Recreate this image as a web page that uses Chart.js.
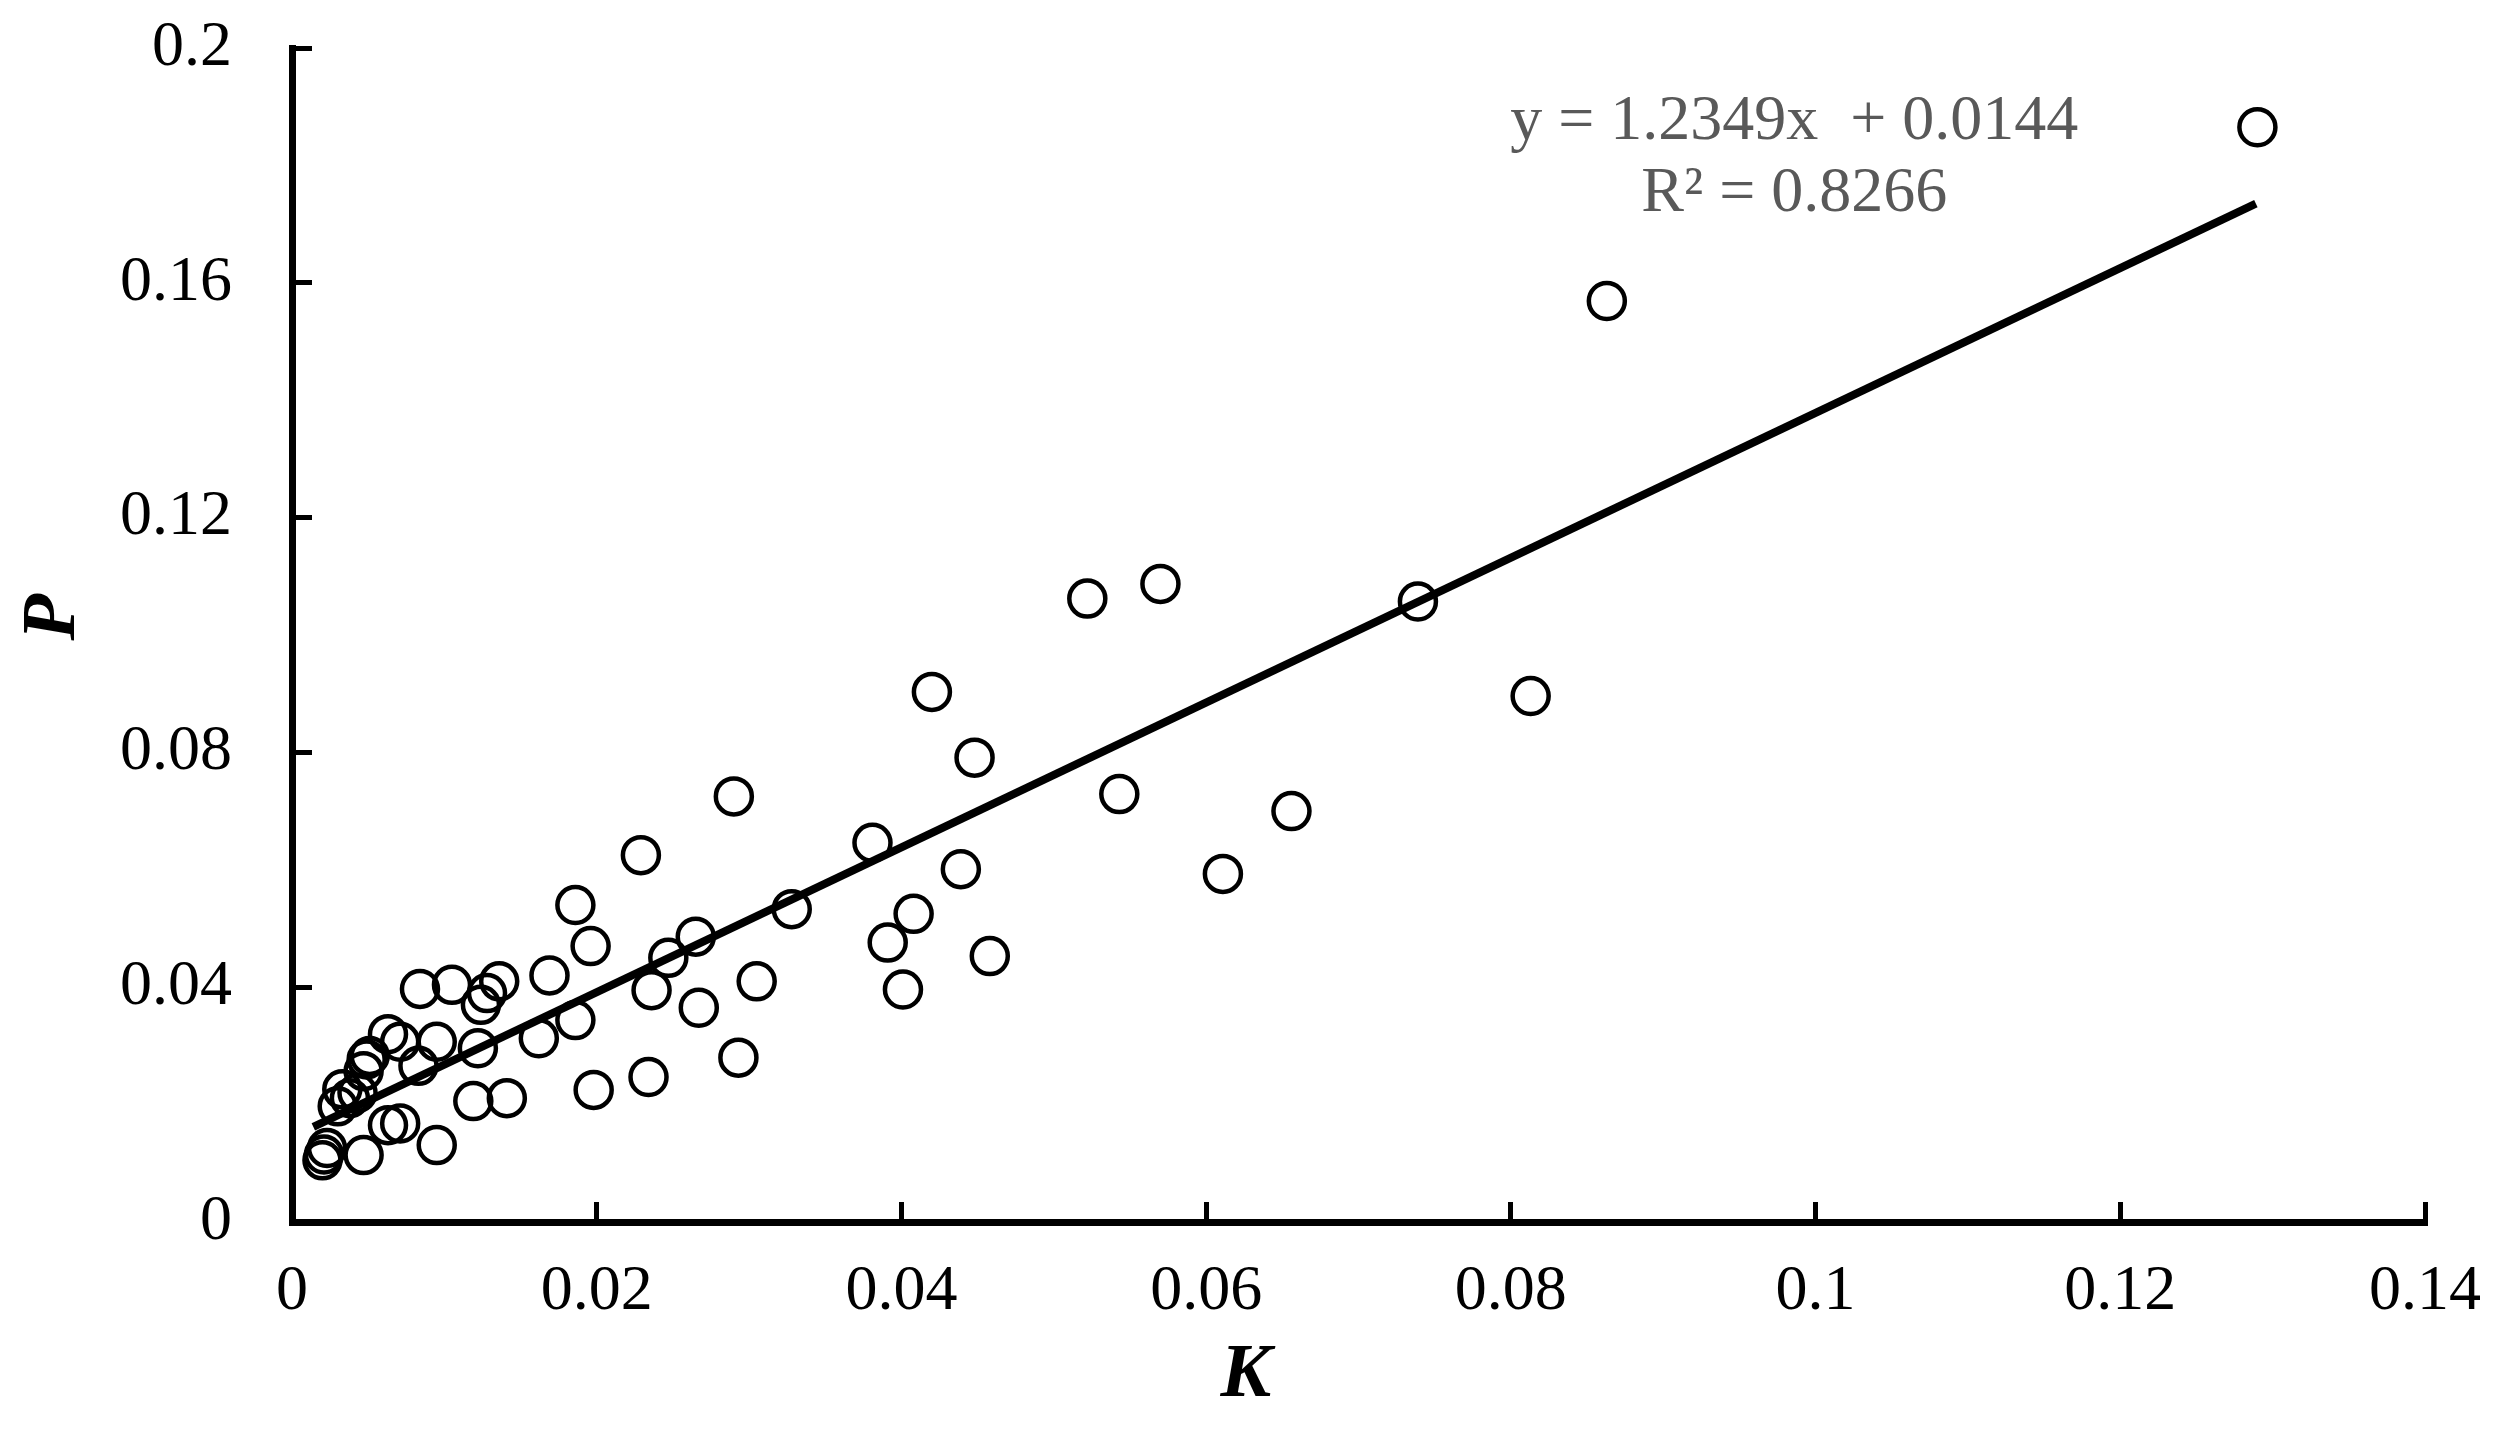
<!DOCTYPE html>
<html>
<head>
<meta charset="utf-8">
<script src="https://cdn.jsdelivr.net/npm/chart.js@4/dist/chart.umd.min.js"></script>
<style>
  html, body { margin: 0; padding: 0; background: #fff; }
  #wrap { width: 2503px; height: 1429px; position: relative; }
</style>
</head>
<body>
<div id="wrap"><canvas id="kpChart"></canvas></div>
<script>
// K / P values
const kValues = [
    0.1290, 0.0863, 0.0813, 0.0739, 0.0656, 0.0611, 0.0570, 0.0522, 0.0543, 0.0420,
    0.0448, 0.0381, 0.0439, 0.0408, 0.0391, 0.0458, 0.0401, 0.0328, 0.0290, 0.0305,
    0.0293, 0.0229, 0.0186, 0.0196, 0.0169, 0.0247, 0.0265, 0.0236, 0.0267, 0.0186,
    0.0162, 0.0198, 0.0234, 0.0084, 0.0105, 0.0136, 0.0128, 0.0124, 0.0063, 0.0071,
    0.0095, 0.0122, 0.0083, 0.0049, 0.0047, 0.0119, 0.0141, 0.0063, 0.0071, 0.0095,
    0.0047, 0.0020, 0.0021, 0.0023, 0.0030, 0.0038, 0.0043, 0.0033, 0.0051
];
const pValues = [
    0.1865, 0.1569, 0.0896, 0.1057, 0.0700, 0.0593, 0.1087, 0.1062, 0.0729, 0.0903,
    0.0791, 0.0646, 0.0601, 0.0525, 0.0476, 0.0453, 0.0396, 0.0533, 0.0725, 0.0410,
    0.0280, 0.0625, 0.0540, 0.0470, 0.0420, 0.0450, 0.0486, 0.0395, 0.0365, 0.0344,
    0.0313, 0.0225, 0.0247, 0.0397, 0.0404, 0.0410, 0.0390, 0.0370, 0.0320, 0.0307,
    0.0307, 0.0296, 0.0266, 0.0277, 0.0257, 0.0206, 0.0211, 0.0165, 0.0168, 0.0131,
    0.0114, 0.0105, 0.0115, 0.0126, 0.0197, 0.0211, 0.0220, 0.0226, 0.0283
];

// trend line end points as drawn
const trendK = [0.0014, 0.1289];
const trendP = [0.0162, 0.1735];

const xTickLabels = ["0", "0.02", "0.04", "0.06", "0.08", "0.1", "0.12", "0.14"];
const yTickLabels = ["0", "0.04", "0.08", "0.12", "0.16", "0.2"];
const equationLines = ["y = 1.2349x  + 0.0144", "R\u00B2 = 0.8266"];

const serif = "'Liberation Serif', 'Times New Roman', serif";

const scatterPoints = kValues.map((k, i) => ({ x: k, y: pValues[i] }));
const trendPoints = trendK.map((k, i) => ({ x: k, y: trendP[i] }));

// axis titles + equation label
const annotations = {
    id: "annotations",
    afterDraw(chart) {
        const c = chart.ctx;
        const xs = chart.scales.x;
        const ys = chart.scales.y;
        const area = chart.chartArea;
        c.save();
        c.fillStyle = "#595959";
        c.font = "64px " + serif;
        c.textAlign = "center";
        c.textBaseline = "middle";
        c.fillText(equationLines[0], xs.getPixelForValue(0.0986), 122);
        c.fillText(equationLines[1], xs.getPixelForValue(0.0986), 194);

        c.fillStyle = "#000";
        c.font = "italic bold 76px " + serif;
        c.fillText("K", xs.getPixelForValue(0.0626), area.bottom + 154);
        c.translate(area.left - 238, ys.getPixelForValue(0.103));
        c.rotate(-Math.PI / 2);
        c.fillText("P", 0, 0);
        c.restore();
    }
};

const ctx = document.getElementById("kpChart").getContext("2d");

new Chart(ctx, {
    type: "scatter",
    data: {
        datasets: [
            {
                label: "P",
                data: scatterPoints,
                pointStyle: "circle",
                pointRadius: 18,
                pointBorderWidth: 4.5,
                pointBorderColor: "#000",
                pointBackgroundColor: "rgba(0,0,0,0)",
                order: 2
            },
            {
                type: "line",
                label: "Linear",
                data: trendPoints,
                borderColor: "#000",
                borderWidth: 8,
                pointRadius: 0,
                fill: false,
                order: 1
            }
        ]
    },
    options: {
        responsive: true,
        maintainAspectRatio: false,
        animation: false,
        layout: {
            padding: { left: 0, right: 78, top: 48, bottom: 0 }
        },
        plugins: {
            legend: { display: false },
            tooltip: { enabled: false }
        },
        scales: {
            x: {
                type: "linear",
                min: 0,
                max: 0.14,
                afterFit(scale) {
                    scale.height = 207;
                    scale.paddingLeft = 0;
                    scale.paddingRight = 0;
                },
                afterBuildTicks(scale) {
                    scale.ticks = xTickLabels.map(t => ({ value: parseFloat(t) }));
                },
                border: { color: "#000", width: 7 },
                grid: {
                    drawOnChartArea: false,
                    drawTicks: true,
                    tickLength: -20,
                    tickWidth: 5,
                    tickColor: "#000"
                },
                ticks: {
                    padding: 52,
                    color: "#000",
                    font: { family: serif, size: 64 },
                    maxRotation: 0,
                    callback: (v, i) => xTickLabels[i]
                }
            },
            y: {
                type: "linear",
                min: 0,
                max: 0.2,
                afterFit(scale) {
                    scale.width = 292;
                    scale.paddingTop = 0;
                    scale.paddingBottom = 0;
                },
                afterBuildTicks(scale) {
                    scale.ticks = yTickLabels.map(t => ({ value: parseFloat(t) }));
                },
                border: { color: "#000", width: 7 },
                grid: {
                    drawOnChartArea: false,
                    drawTicks: true,
                    tickLength: -20,
                    tickWidth: 5,
                    tickColor: "#000"
                },
                ticks: {
                    padding: 80,
                    color: "#000",
                    font: { family: serif, size: 64 },
                    callback: (v, i) => yTickLabels[i]
                }
            }
        }
    },
    plugins: [annotations]
});
</script>
</body>
</html>
